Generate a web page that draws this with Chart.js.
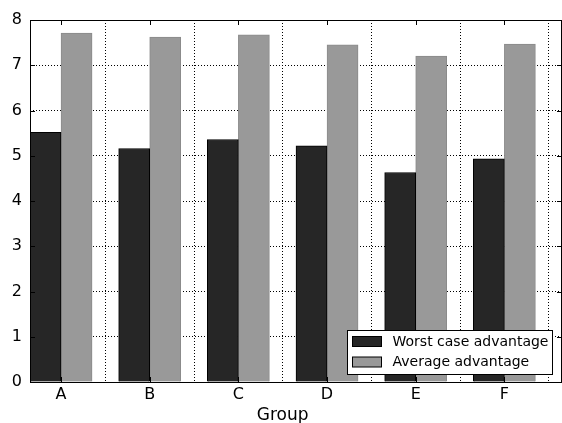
<!DOCTYPE html>
<html>
<head>
<meta charset="utf-8">
<script src="https://cdn.jsdelivr.net/npm/chart.js@4/dist/chart.umd.min.js"></script>
<style>
html,body{margin:0;padding:0;background:#fff;}
#wrap{width:562px;height:423px;}
</style>
</head>
<body>
<div id="wrap"><canvas id="c" width="562" height="423"></canvas></div>
<script>
const categories = ['A', 'B', 'C', 'D', 'E', 'F'];
const worstCase = [5.52, 5.16, 5.36, 5.22, 4.63, 4.93];
const average = [7.71, 7.62, 7.67, 7.45, 7.20, 7.47];
const yTicks = [0, 1, 2, 3, 4, 5, 6, 7, 8];
const seriesNames = ['Worst case advantage', 'Average advantage'];
const xLabel = 'Group';

const BAR_W = 0.35;
const FONT = 'DejaVu Sans';

const frameAndExtras = {
  id: 'frameAndExtras',
  afterDraw(chart) {
    const ctx = chart.ctx;
    const a = chart.chartArea;
    const xs = chart.scales.x, ys = chart.scales.y;
    ctx.save();
    ctx.strokeStyle = '#000';
    ctx.lineWidth = 1;
    // frame
    ctx.strokeRect(Math.round(a.left) + 0.5, Math.round(a.top) + 0.5,
      Math.round(a.right) - Math.round(a.left) - 1, Math.round(a.bottom) - Math.round(a.top));
    // inward ticks
    const L = 5;
    ctx.beginPath();
    ys.ticks.forEach((t, i) => {
      const y = Math.round(ys.getPixelForTick(i)) + 0.5;
      ctx.moveTo(a.left, y); ctx.lineTo(a.left + L, y);
      ctx.moveTo(a.right, y); ctx.lineTo(a.right - L, y);
    });
    xs.ticks.forEach((t, i) => {
      const x = Math.round(xs.getPixelForTick(i)) + 0.5;
      ctx.moveTo(x, a.bottom); ctx.lineTo(x, a.bottom - L);
      ctx.moveTo(x, a.top); ctx.lineTo(x, a.top + L);
    });
    ctx.stroke();

    // x axis label
    ctx.fillStyle = '#000';
    ctx.font = '17px "' + FONT + '"';
    ctx.textAlign = 'center';
    ctx.textBaseline = 'alphabetic';
    ctx.fillText(xLabel, a.left + 0.475 * (a.right - a.left), 420);

    // legend
    const bw = 205, bh = 44;
    const bx = Math.round(a.right - 10 - bw) + 0.5;
    const by = Math.round(a.bottom - 8 - bh) + 0.5;
    ctx.fillStyle = '#fff';
    ctx.fillRect(bx, by, bw, bh);
    ctx.strokeStyle = '#000';
    ctx.strokeRect(bx, by, bw, bh);
    ctx.font = '14px "' + FONT + '"';
    ctx.textAlign = 'left';
    ctx.textBaseline = 'middle';
    chart.data.datasets.forEach((ds, i) => {
      const sy = by + 6 + i * 20.5;
      ctx.fillStyle = ds.backgroundColor;
      ctx.fillRect(bx + 5, sy, 29, 10);
      ctx.strokeStyle = '#000';
      ctx.strokeRect(bx + 5, sy, 29, 10);
      ctx.fillStyle = '#000';
      ctx.fillText(ds.label, bx + 45, sy + 5.5);
    });
    ctx.restore();
  }
};

new Chart(document.getElementById('c'), {
  type: 'bar',
  data: {
    datasets: [
      {
        label: seriesNames[0],
        data: worstCase.map((v, i) => ({ x: i + BAR_W / 2, y: v })),
        backgroundColor: '#262626',
        borderColor: '#000',
        borderWidth: 1,
        grouped: false,
        barPercentage: 1,
        categoryPercentage: 1
      },
      {
        label: seriesNames[1],
        data: average.map((v, i) => ({ x: i + BAR_W * 1.5, y: v })),
        backgroundColor: '#999999',
        borderColor: '#8a8a8a',
        borderWidth: 1,
        grouped: false,
        barPercentage: 1,
        categoryPercentage: 1
      }
    ]
  },
  options: {
    responsive: false,
    animation: false,
    events: [],
    layout: { padding: { top: 20, right: 0, left: 0, bottom: 0 } },
    plugins: { legend: { display: false }, tooltip: { enabled: false } },
    scales: {
      x: {
        type: 'linear',
        min: 0,
        max: 6,
        offset: false,
        z: 1,
        afterBuildTicks(scale) {
          scale.ticks = categories.map((c, i) => ({ value: i + BAR_W }));
        },
        afterFit(scale) { scale.height = 41; },
        ticks: {
          autoSkip: false,
          maxRotation: 0,
          padding: 3,
          color: '#000',
          font: { family: FONT, size: 16 },
          callback: (value) => categories[Math.round(value - BAR_W)]
        },
        grid: { color: '#000', lineWidth: 1, drawTicks: false },
        border: { display: false, dash: [1, 2] }
      },
      y: {
        min: 0,
        max: 8,
        z: 1,
        afterBuildTicks(scale) {
          scale.ticks = yTicks.map(v => ({ value: v }));
        },
        afterFit(scale) { scale.width = 30; },
        ticks: {
          padding: 8,
          color: '#000',
          font: { family: FONT, size: 16 }
        },
        grid: { color: '#000', lineWidth: 1, drawTicks: false },
        border: { display: false, dash: [1, 2] }
      }
    }
  },
  plugins: [frameAndExtras]
});
</script>
</body>
</html>
